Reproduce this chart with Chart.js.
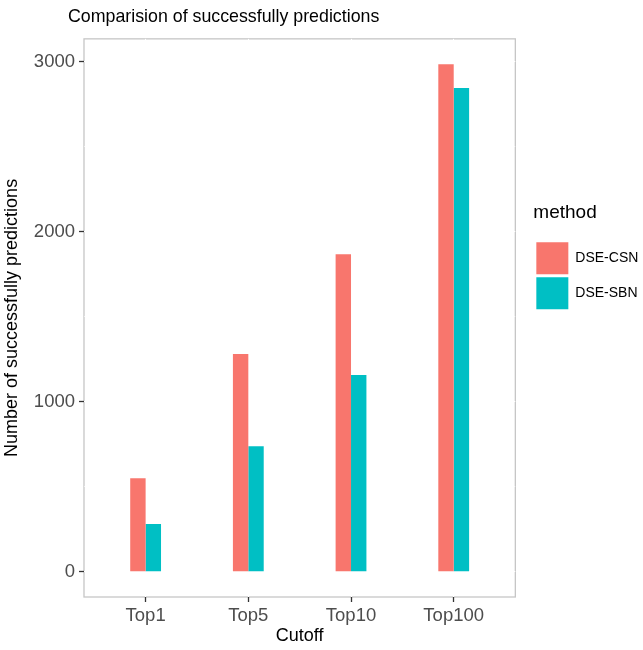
<!DOCTYPE html>
<html><head><meta charset="utf-8">
<script src="https://cdn.jsdelivr.net/npm/chart.js@4/dist/chart.umd.min.js"></script>
<style>html,body{margin:0;padding:0;background:#fff}#wrap{width:643px;height:650px}</style>
</head><body><div id="wrap"><canvas id="c" width="643" height="650"></canvas></div>
<script>
const categories = ['Top1', 'Top5', 'Top10', 'Top100'];
const dseCsn = [549, 1280, 1867, 2985];
const dseSbn = [280, 737, 1157, 2845];
const seriesNames = ['DSE-CSN', 'DSE-SBN'];
const xTickValues = [1, 2, 3, 4];
const yTickValues = [0, 500, 1000, 1500, 2000, 2500, 3000];
const yMajorValues = [0, 1000, 2000, 3000];

const FONT = "'Liberation Sans', Arial, Helvetica, sans-serif";
Chart.defaults.font.family = FONT;

const panelPlugin = {
  id: 'panel',
  beforeDraw(chart) {
    const ctx = chart.ctx, a = chart.chartArea;
    ctx.save();
    ctx.fillStyle = '#ffffff';
    ctx.fillRect(0, 0, chart.width, chart.height);
    ctx.strokeStyle = '#c6c6c6';
    ctx.lineWidth = 1.3;
    ctx.strokeRect(a.left, a.top, a.right - a.left, a.bottom - a.top);
    ctx.restore();
  },
  afterLayout(chart) {
    if (chart.titleBlock) chart.titleBlock.left = 68;
  }
};

const toPoints = arr => arr.map((v, i) => ({x: xTickValues[i], y: v}));

new Chart(document.getElementById('c'), {
  type: 'bar',
  data: {
    datasets: [
      {label: seriesNames[0], data: toPoints(dseCsn), backgroundColor: '#F8766D', borderWidth: 0,
       categoryPercentage: 0.3, barPercentage: 1.0},
      {label: seriesNames[1], data: toPoints(dseSbn), backgroundColor: '#00BFC4', borderWidth: 0,
       categoryPercentage: 0.3, barPercentage: 1.0}
    ]
  },
  plugins: [panelPlugin],
  options: {
    responsive: false,
    animation: false,
    layout: {padding: {left: 0, right: 3, top: 0, bottom: 0}},
    scales: {
      x: {
        type: 'linear',
        min: 0.4, max: 4.6,
        offset: false,
        afterBuildTicks: s => { s.ticks = xTickValues.map(v => ({value: v})); },
        afterFit: s => { s.height = 53; },
        ticks: {
          callback: (v, i) => categories[i],
          color: '#4d4d4d', font: {size: 18.5}, padding: 3, maxRotation: 0, autoSkip: false
        },
        grid: {offset: false, color: '#ffffff', lineWidth: 1, tickLength: 5, tickColor: '#333333', tickWidth: 1.3},
        border: {display: false},
        title: {display: true, text: 'Cutoff', color: '#000000', font: {size: 18}, padding: {top: 0, bottom: 3}}
      },
      y: {
        type: 'linear',
        min: -149, max: 3134,
        afterBuildTicks: s => { s.ticks = yTickValues.map(v => ({value: v})); },
        afterFit: s => { s.width = 84; },
        ticks: {
          callback: v => yMajorValues.includes(v) ? String(v) : '',
          color: '#4d4d4d', font: {size: 18.5}, padding: 4
        },
        grid: {
          color: '#ffffff',
          lineWidth: c => (c.tick && yMajorValues.includes(c.tick.value)) ? 1 : 0.6,
          tickLength: 5,
          tickColor: c => (c.tick && yMajorValues.includes(c.tick.value)) ? '#333333' : 'rgba(0,0,0,0)',
          tickWidth: 1.3
        },
        border: {display: false},
        title: {display: true, text: 'Number of successfully predictions', color: '#000000', font: {size: 18}, padding: {top: 1, bottom: 0}}
      },
      gap: {
        type: 'linear',
        position: 'right',
        display: true,
        afterFit: s => { s.width = 18; },
        ticks: {display: false},
        grid: {display: false, drawTicks: false},
        border: {display: false}
      }
    },
    plugins: {
      title: {
        display: true,
        text: 'Comparision of successfully predictions',
        align: 'start',
        color: '#000000',
        font: {size: 17.8, weight: 'normal'},
        padding: {top: 6, bottom: 11.5}
      },
      legend: {
        position: 'right',
        align: 'start',
        title: {display: true, text: 'method', position: 'start', color: '#000000', font: {size: 19}, padding: {top: 203.5, bottom: 13}},
        labels: {boxWidth: 32, boxHeight: 32, padding: 3, color: '#000000', font: {size: 14}}
      },
      tooltip: {enabled: false}
    }
  }
});
</script></body></html>
